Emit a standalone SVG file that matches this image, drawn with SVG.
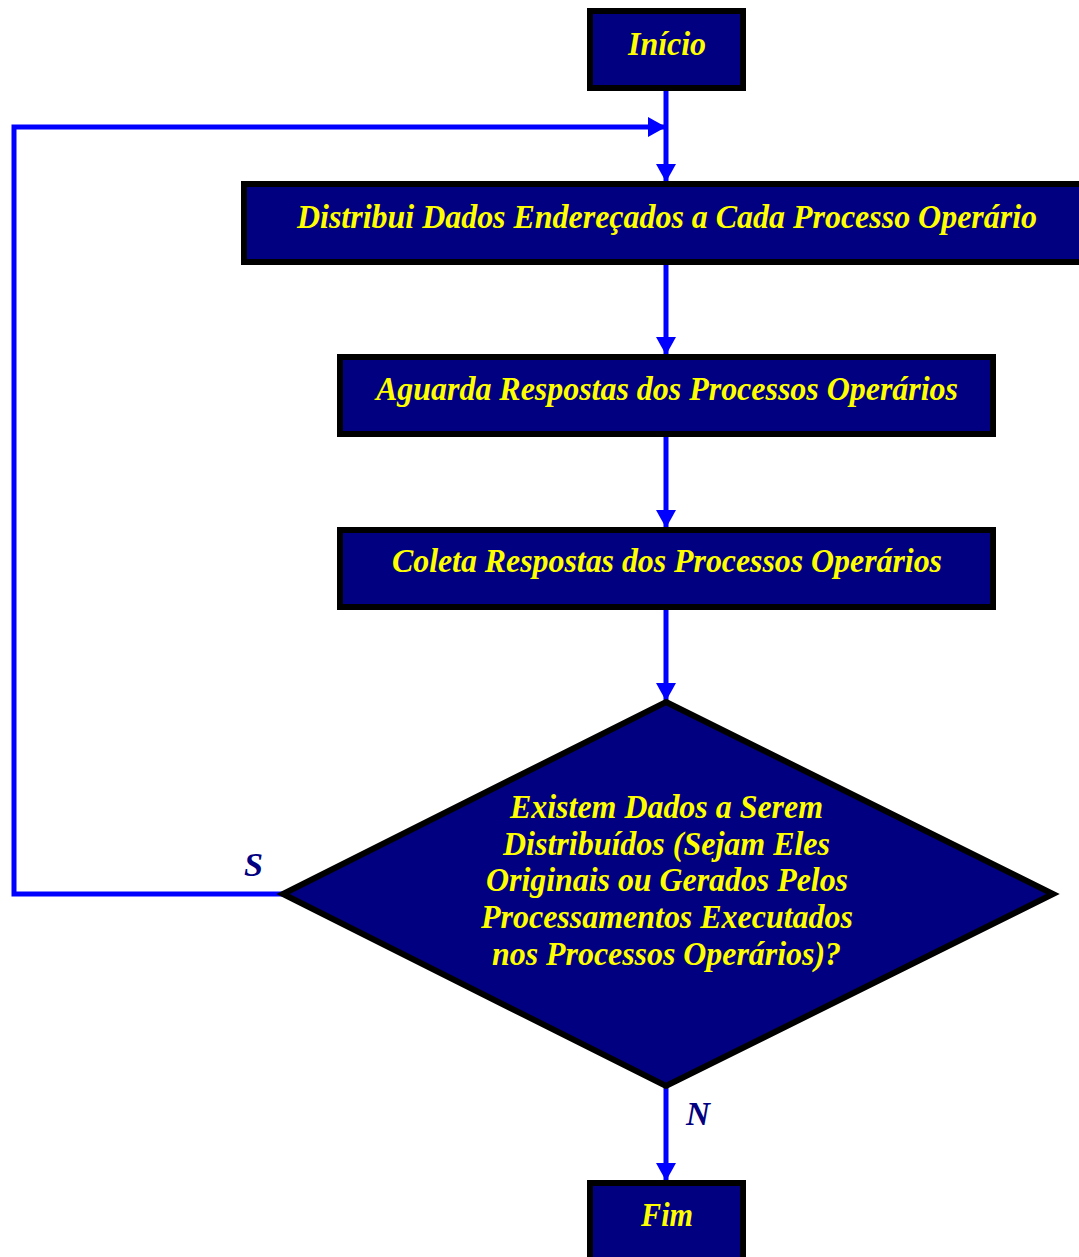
<svg xmlns="http://www.w3.org/2000/svg" width="1079" height="1257" viewBox="0 0 1079 1257">
  <defs>
    <marker id="arrow" viewBox="0 0 18 20" refX="18" refY="10" markerWidth="18" markerHeight="20" markerUnits="userSpaceOnUse" orient="auto">
      <path d="M0,0 L18,10 L0,20 Z" fill="#0000FF"/>
    </marker>
    <style>
      .box { fill: #000080; stroke: #000000; stroke-width: 6; }
      .label { font-family: "Liberation Serif", "Times New Roman", serif; font-weight: bold; font-style: italic; font-size: 34px; fill: #FFFF00; text-anchor: start; }
      .branch { font-family: "Liberation Serif", "Times New Roman", serif; font-weight: bold; font-style: italic; font-size: 33px; fill: #000080; }
      .flow { fill: none; stroke: #0000FF; stroke-width: 5; }
    </style>
  </defs>
  <rect width="1079" height="1257" fill="#FFFFFF"/>

  <g id="connectors">
    <line class="flow" x1="666" y1="89" x2="666" y2="182" marker-end="url(#arrow)"/>
    <polyline class="flow" points="283,894 14,894 14,127 666,127" marker-end="url(#arrow)"/>
    <line class="flow" x1="666" y1="264" x2="666" y2="355" marker-end="url(#arrow)"/>
    <line class="flow" x1="666" y1="436" x2="666" y2="528" marker-end="url(#arrow)"/>
    <line class="flow" x1="666" y1="609" x2="666" y2="701" marker-end="url(#arrow)"/>
    <line class="flow" x1="666" y1="1087" x2="666" y2="1181" marker-end="url(#arrow)"/>
  </g>

  <g id="inicio">
    <rect class="box" x="590" y="11" width="153" height="77"/>
    <text class="label" x="628" y="55" textLength="78" lengthAdjust="spacingAndGlyphs">Início</text>
  </g>

  <g id="distribui">
    <rect class="box" x="244" y="184" width="840" height="78"/>
    <text class="label" x="297" y="228" textLength="740" lengthAdjust="spacingAndGlyphs">Distribui Dados Endereçados a Cada Processo Operário</text>
  </g>

  <g id="aguarda">
    <rect class="box" x="340" y="357" width="653" height="77"/>
    <text class="label" x="376" y="400" textLength="582" lengthAdjust="spacingAndGlyphs">Aguarda Respostas dos Processos Operários</text>
  </g>

  <g id="coleta">
    <rect class="box" x="340" y="530" width="653" height="77"/>
    <text class="label" x="392" y="572" textLength="550" lengthAdjust="spacingAndGlyphs">Coleta Respostas dos Processos Operários</text>
  </g>

  <g id="decisao">
    <polygon class="box" points="666,702 1053,894 666,1086 283,894"/>
    <text class="label" x="510" y="818" textLength="313" lengthAdjust="spacingAndGlyphs">Existem Dados a Serem</text>
    <text class="label" x="503" y="855" textLength="327" lengthAdjust="spacingAndGlyphs">Distribuídos (Sejam Eles</text>
    <text class="label" x="486" y="891" textLength="362" lengthAdjust="spacingAndGlyphs">Originais ou Gerados Pelos</text>
    <text class="label" x="481" y="928" textLength="372" lengthAdjust="spacingAndGlyphs">Processamentos Executados</text>
    <text class="label" x="492" y="965" textLength="349" lengthAdjust="spacingAndGlyphs">nos Processos Operários)?</text>
  </g>

  <g id="rotulos">
    <text class="branch" x="244" y="876" textLength="19" lengthAdjust="spacingAndGlyphs">S</text>
    <text class="branch" x="686" y="1125" textLength="24" lengthAdjust="spacingAndGlyphs">N</text>
  </g>

  <g id="fim">
    <rect class="box" x="590" y="1183" width="153" height="80"/>
    <text class="label" x="641" y="1226" textLength="52" lengthAdjust="spacingAndGlyphs">Fim</text>
  </g>
</svg>
